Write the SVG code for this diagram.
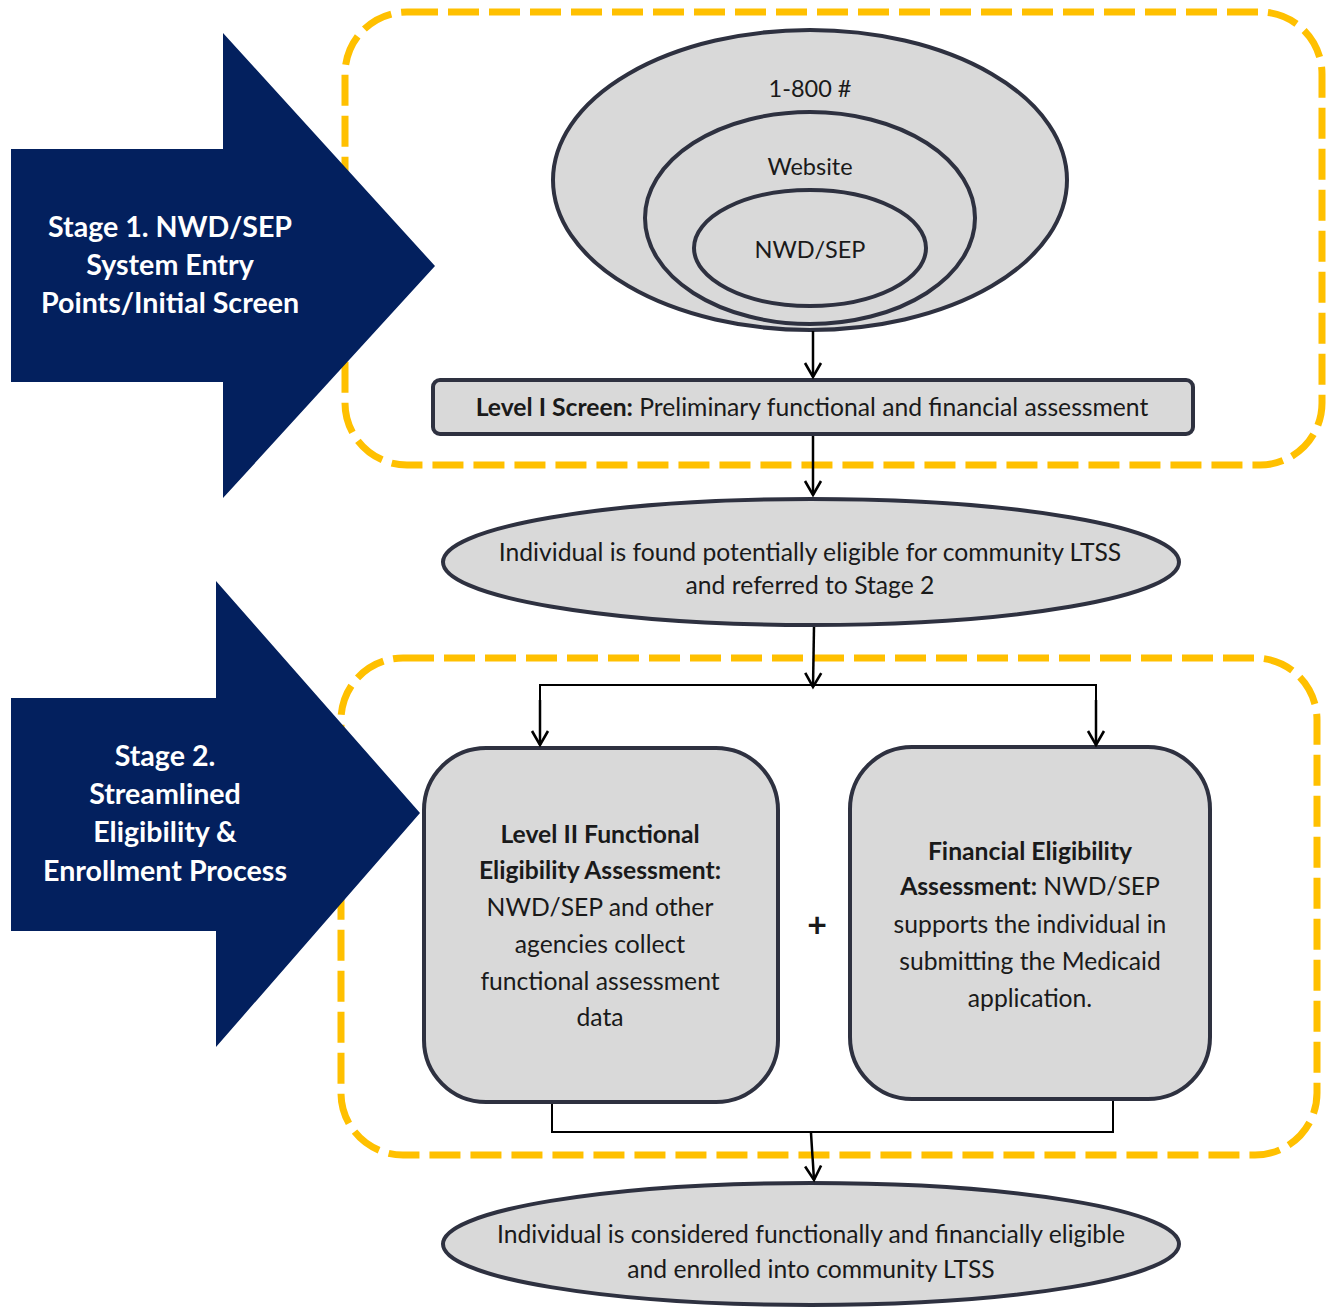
<svg xmlns="http://www.w3.org/2000/svg" width="1335" height="1309" viewBox="0 0 1335 1309">
  <defs>
    <marker id="arr" viewBox="-2 -2 20 20" refX="14" refY="8" markerWidth="20" markerHeight="20" markerUnits="userSpaceOnUse" orient="auto">
      <path d="M0,0 L14,8 L0,16" fill="none" stroke="#000" stroke-width="2.6" stroke-linejoin="miter"/>
    </marker>
    <style>
      .dash { fill: none; stroke: #FFC000; stroke-width: 7; stroke-dasharray: 31 10; }
      .stage { fill: #03205E; }
      .stxt { font-family: Lato, "Open Sans", sans-serif; font-weight: bold; font-size: 28.6px; fill: #FFFFFF; text-anchor: middle; }
      .shape { fill: #D9D9D9; stroke: #2E3140; stroke-width: 4; }
      .txt { font-family: Lato, "Open Sans", sans-serif; font-size: 24.7px; fill: #1A1A1A; text-anchor: middle; }
      .sm { font-size: 23.5px; }
      .b { font-weight: bold; }
      .line { fill: none; stroke: #000; stroke-width: 2.5; }
      .thin { fill: none; stroke: #000; stroke-width: 2; }
    </style>
  </defs>
  <rect width="1335" height="1309" fill="#FFFFFF"/>

  <g id="stage1-box"><rect class="dash" x="345" y="12" width="977" height="453" rx="62"/></g>
  <g id="stage2-box"><rect class="dash" x="341" y="658" width="976" height="497" rx="62"/></g>

  <g id="stage1-arrow">
    <polygon class="stage" points="11,149 223,149 223,33 435,266 223,498 223,382 11,382"/>
    <text class="stxt" x="170" y="237">Stage 1. NWD/SEP</text>
    <text class="stxt" x="170" y="275">System Entry</text>
    <text class="stxt" x="170" y="313">Points/Initial Screen</text>
  </g>
  <g id="stage2-arrow">
    <polygon class="stage" points="11,698 216,698 216,581 420,813 216,1047 216,931 11,931"/>
    <text class="stxt" x="165" y="766">Stage 2.</text>
    <text class="stxt" x="165" y="804">Streamlined</text>
    <text class="stxt" x="165" y="842">Eligibility &amp;</text>
    <text class="stxt" x="165" y="881">Enrollment Process</text>
  </g>

  <g id="entry-points">
    <ellipse class="shape" cx="810" cy="180" rx="257" ry="150"/>
    <ellipse class="shape" cx="810" cy="218" rx="165" ry="106"/>
    <ellipse class="shape" cx="810" cy="248" rx="116" ry="58"/>
    <text class="txt sm" x="810" y="97">1-800 #</text>
    <text class="txt sm" x="810" y="175">Website</text>
    <text class="txt sm" x="810" y="258">NWD/SEP</text>
  </g>

  <g id="level1-screen">
    <rect class="shape" x="433" y="380" width="760" height="54" rx="7"/>
    <text class="txt" x="812" y="416"><tspan class="b">Level I Screen:</tspan>  Preliminary functional and financial assessment</text>
  </g>

  <g id="referred">
    <ellipse class="shape" cx="811" cy="562" rx="368" ry="63"/>
    <text class="txt" x="810" y="561">Individual is found potentially eligible for community LTSS</text>
    <text class="txt" x="810" y="594">and referred  to Stage 2</text>
  </g>

  <g id="level2-functional">
    <rect class="shape" x="424" y="748" width="354" height="354" rx="62"/>
    <text class="txt" x="600" y="843"><tspan class="b">Level II Functional</tspan></text>
    <text class="txt" x="600" y="879"><tspan class="b">Eligibility Assessment:</tspan></text>
    <text class="txt" x="600" y="916">NWD/SEP and other</text>
    <text class="txt" x="600" y="953">agencies collect</text>
    <text class="txt" x="600" y="990">functional assessment</text>
    <text class="txt" x="600" y="1026">data</text>
  </g>

  <g id="plus"><text class="txt" x="817" y="937" style="font-size:34px;font-weight:bold">+</text></g>

  <g id="financial">
    <rect class="shape" x="850" y="747" width="360" height="352" rx="62"/>
    <text class="txt" x="1030" y="860"><tspan class="b">Financial Eligibility</tspan></text>
    <text class="txt" x="1030" y="895"><tspan class="b">Assessment:</tspan> NWD/SEP</text>
    <text class="txt" x="1030" y="933">supports the individual in</text>
    <text class="txt" x="1030" y="970">submitting the Medicaid</text>
    <text class="txt" x="1030" y="1007">application.</text>
  </g>

  <g id="enrolled">
    <ellipse class="shape" cx="811" cy="1244" rx="368" ry="61"/>
    <text class="txt" x="811" y="1243">Individual is considered  functionally and financially eligible</text>
    <text class="txt" x="811" y="1278">and enrolled into community LTSS</text>
  </g>

  <g id="connectors">
    <line class="line" x1="813" y1="331" x2="813" y2="377" marker-end="url(#arr)"/>
    <line class="line" x1="813" y1="436" x2="813" y2="495" marker-end="url(#arr)"/>
    <line class="line" x1="814" y1="627" x2="813" y2="687" marker-end="url(#arr)"/>
    <polyline class="thin" points="540,746 540,685 1096,685 1096,746"/>
    <line class="line" x1="540" y1="700" x2="540" y2="745" marker-end="url(#arr)"/>
    <line class="line" x1="1096" y1="700" x2="1096" y2="745" marker-end="url(#arr)"/>
    <polyline class="thin" points="552,1104 552,1132 1113,1132 1113,1101"/>
    <line class="line" x1="811" y1="1133" x2="814" y2="1180" marker-end="url(#arr)"/>
  </g>
</svg>
